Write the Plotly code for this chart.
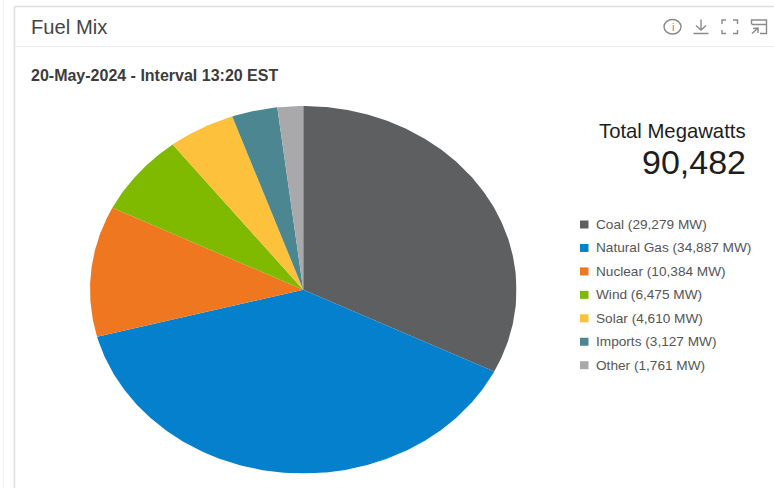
import math
import plotly.graph_objects as go

fuels = ["Coal", "Natural Gas", "Nuclear", "Wind", "Solar", "Imports", "Other"]
megawatts = [29279, 34887, 10384, 6475, 4610, 3127, 1761]
colors = ["#5e5f61", "#0580cd", "#ef7720", "#7fb900", "#fdc13c", "#4b8691", "#a9a9ab"]
total_label = "90,482"
title = "Fuel Mix"
subtitle = "20-May-2024 - Interval 13:20 EST"

W, H = 774, 488
PIE_LEFT, PIE_RIGHT, PIE_TOP, PIE_BOTTOM = 90, 516.5, 106, 473.5

fig = go.Figure()

# Pie slices, clockwise from twelve o'clock, on a unit-circle axis pair
# whose plot area is wider than it is tall.
total = sum(megawatts)
start = 0.0
for fuel, mw, color in zip(fuels, megawatts, colors):
    sweep = mw / total * 2 * math.pi
    steps = max(4, int(sweep / 0.01))
    angles = [start + sweep * i / steps for i in range(steps + 1)]
    xs = [0.0] + [math.sin(a) for a in angles] + [0.0]
    ys = [0.0] + [math.cos(a) for a in angles] + [0.0]
    fig.add_trace(go.Scatter(
        x=xs, y=ys, mode="lines", fill="toself", fillcolor=color,
        line=dict(width=0, color=color), name=fuel,
        hoveron="fills", text=f"{fuel} ({mw:,} MW)", hoverinfo="text",
        showlegend=False,
    ))
    start += sweep

# Invisible trace that keeps the pixel-scale axes alive for the card furniture.
fig.add_trace(go.Scatter(x=[0, W], y=[0, H], xaxis="x2", yaxis="y2", mode="markers",
                         marker=dict(opacity=0), hoverinfo="skip", showlegend=False))

hidden = dict(visible=False, fixedrange=True)
fig.update_layout(
    width=W, height=H, autosize=False,
    margin=dict(l=0, r=0, t=0, b=0),
    paper_bgcolor="white", plot_bgcolor="rgba(0,0,0,0)",
    font=dict(family="Liberation Sans, Arial, sans-serif"),
    xaxis=dict(range=[-1, 1], domain=[PIE_LEFT / W, PIE_RIGHT / W], **hidden),
    yaxis=dict(range=[-1, 1], domain=[1 - PIE_BOTTOM / H, 1 - PIE_TOP / H], **hidden),
    xaxis2=dict(range=[0, W], domain=[0, 1], anchor="y2", **hidden),
    yaxis2=dict(range=[H, 0], domain=[0, 1], anchor="x2", **hidden),
)


def label(x, y, text, size, color, anchor="left", bold=False):
    fig.add_annotation(
        x=x, y=y, xref="x2", yref="y2", text=f"<b>{text}</b>" if bold else text,
        showarrow=False, xanchor=anchor, yanchor="middle",
        font=dict(size=size, color=color), borderpad=0, borderwidth=0,
    )


def line(x0, y0, x1, y1, color="#dcdcdc", width=1.0):
    fig.add_shape(type="line", xref="x2", yref="y2", x0=x0, y0=y0, x1=x1, y1=y1,
                  line=dict(color=color, width=width))


def path(d, color="#8a8a8a", width=1.4):
    fig.add_shape(type="path", xref="x2", yref="y2", path=d,
                  line=dict(color=color, width=width))


# Card outline and header rule
line(3.5, 0, 3.5, H, "#f0f0f0", 1)
line(14.5, 6.5, 14.5, H, "#dedede", 1.6)
line(14.5, 6.5, W, 6.5, "#dedede", 1.6)
line(14.5, 46.5, W, 46.5, "#ececec", 1)

label(31, 27, title, 20.2, "#454545")
label(31, 75, subtitle, 16, "#3c3c3c", bold=True)
label(746, 130.5, "Total Megawatts", 20.3, "#1d1d1d", anchor="right")
label(746, 161.5, total_label, 34, "#1d1d1d", anchor="right")

# Legend rows
for i, (fuel, mw, color) in enumerate(zip(fuels, megawatts, colors)):
    y = 224.5 + i * 23.45
    fig.add_shape(type="rect", xref="x2", yref="y2", x0=580, x1=588.5, y0=y - 4, y1=y + 4,
                  fillcolor=color, line=dict(width=0))
    label(596, y, f"{fuel} ({mw:,} MW)", 13.65, "#555555")

# Toolbar icons: info, download, fullscreen, pop-out
fig.add_shape(type="circle", xref="x2", yref="y2", x0=664, x1=681, y0=19.5, y1=34,
              line=dict(color="#8a8a8a", width=1.4))
label(672.5, 27, "i", 11, "#8a8a8a", anchor="center")
path("M 701 19.5 L 701 30 M 696 25.5 L 701 30 L 706 25.5 M 693.5 33.5 L 708.5 33.5")
path("M 722 24 L 722 20 L 726 20 M 733 20 L 737.5 20 L 737.5 24 "
     "M 737.5 30 L 737.5 33.5 L 733 33.5 M 726 33.5 L 722 33.5 L 722 30")
path("M 751.5 24 L 751.5 20 L 766.5 20 L 766.5 33.5 L 760 33.5 M 751.5 24.5 L 766.5 24.5 "
     "M 752 33.5 L 758 28 M 753 28.5 L 758 28 L 758 33")

fig.write_html("out.html")
